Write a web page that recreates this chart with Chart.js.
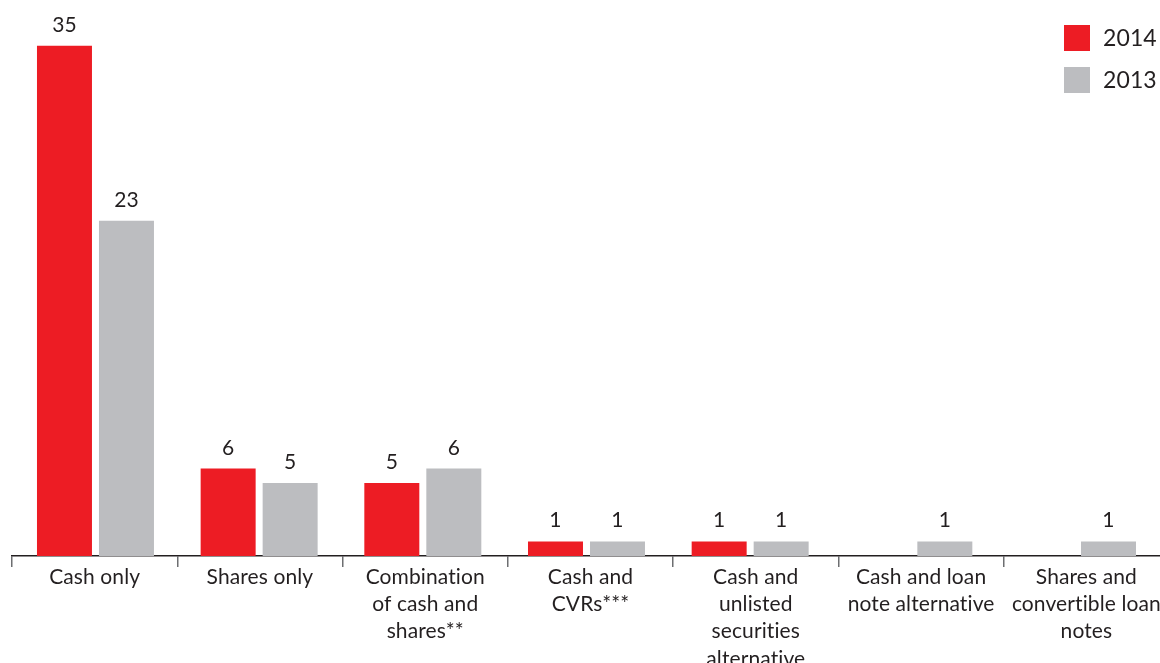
<!DOCTYPE html>
<html>
<head>
<meta charset="utf-8">
<script src="https://cdn.jsdelivr.net/npm/chart.js@4"></script>
<style>
	html, body { margin: 0; padding: 0; overflow: hidden; background: #fff; }
	#wrap { position: relative; width: 1169px; height: 700px; }
</style>
</head>
<body>
<div id="wrap"><canvas id="dealChart"></canvas></div>
<script>
const categories = [
	['Cash only'],
	['Shares only'],
	['Combination', 'of cash and', 'shares**'],
	['Cash and', 'CVRs***'],
	['Cash and', 'unlisted', 'securities', 'alternative'],
	['Cash and loan', 'note alternative'],
	['Shares and', 'convertible loan', 'notes']
];
const values2014 = [35, 6, 5, 1, 1, 0, 0];
const values2013 = [23, 5, 6, 1, 1, 1, 1];
const seriesLabels = ['2014', '2013'];

const textColor = '#231f20';
const fontFamily = 'Lato, "DejaVu Sans", sans-serif';

// bars sit on a hidden linear axis (index of the category) so their spacing
// can differ a little from the labelled category ticks, as in the original
const toPoints = values => values.map((v, i) => ({ x: i, y: v }));

// no ligatures ("ti") in the labels
const noLigatures = {
	id: 'noLigatures',
	beforeDraw(chart) { chart.ctx.letterSpacing = '0.1px'; }
};

// value labels above each bar
const valueLabels = {
	id: 'valueLabels',
	afterDatasetsDraw(chart) {
		const ctx = chart.ctx;
		ctx.save();
		ctx.fillStyle = textColor;
		ctx.font = `21px ${fontFamily}`;
		ctx.textAlign = 'center';
		ctx.textBaseline = 'alphabetic';
		chart.data.datasets.forEach((ds, i) => {
			chart.getDatasetMeta(i).data.forEach((bar, j) => {
				const v = ds.data[j].y;
				if (!v) return;
				ctx.fillText(v, bar.x, bar.y - 14);
			});
		});
		ctx.restore();
	}
};

// legend in the top right corner
const cornerLegend = {
	id: 'cornerLegend',
	afterDraw(chart) {
		const ctx = chart.ctx;
		ctx.save();
		ctx.font = `23px ${fontFamily}`;
		ctx.textBaseline = 'middle';
		ctx.textAlign = 'left';
		chart.data.datasets.forEach((ds, i) => {
			const y = 25 + i * 42;
			ctx.fillStyle = ds.backgroundColor;
			ctx.fillRect(1064, y, 26, 26);
			ctx.fillStyle = textColor;
			ctx.fillText(ds.label, 1103, y + 14);
		});
		ctx.restore();
	}
};

const ctx = document.getElementById('dealChart').getContext('2d');
new Chart(ctx, {
	type: 'bar',
	data: {
		labels: categories,
		datasets: [{
			label: seriesLabels[0],
			data: toPoints(values2014),
			backgroundColor: '#ed1c24',
			xAxisID: 'xb',
			barPercentage: 0.887,
			categoryPercentage: 0.7576,
		}, {
			label: seriesLabels[1],
			data: toPoints(values2013),
			backgroundColor: '#bcbdc0',
			xAxisID: 'xb',
			barPercentage: 0.887,
			categoryPercentage: 0.7576,
		}]
	},
	options: {
		responsive: true,
		maintainAspectRatio: false,
		animation: false,
		layout: { padding: { left: 12, right: 0, top: 2, bottom: 0 } },
		plugins: {
			legend: { display: false },
			tooltip: { enabled: false }
		},
		scales: {
			x: {
				type: 'category',
				border: { color: textColor, width: 1.5 },
				grid: {
					drawOnChartArea: false,
					drawTicks: true,
					tickLength: 11,
					color: '#6d6e71',
					lineWidth: 1.5
				},
				ticks: {
					color: textColor,
					font: { family: fontFamily, size: 21, lineHeight: 1.29 },
					padding: -3,
					maxRotation: 0,
					autoSkip: false
				},
				afterFit(scale) { scale.height = 144; }
			},
			xb: {
				type: 'linear',
				display: false,
				offset: false,
				min: -0.51,
				max: 6.559,
				// one tick per category so the bar width follows the category step
				afterBuildTicks(scale) {
					scale.ticks = categories.map((c, i) => ({ value: i }));
				}
			},
			y: {
				display: false,
				min: 0,
				max: 38
			}
		}
	},
	plugins: [noLigatures, valueLabels, cornerLegend]
});
</script>
</body>
</html>
